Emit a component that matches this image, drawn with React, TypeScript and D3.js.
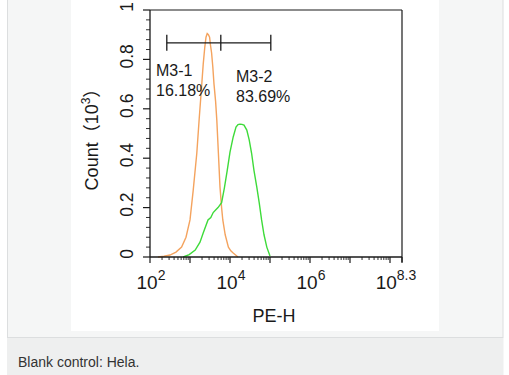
import React from "react";
import * as d3 from "d3";

// ---- data (log10 of PE-H, counts in 10^3) ----
const orangeLogX = [2.2, 2.35, 2.5, 2.65, 2.79, 2.9, 3.0, 3.08, 3.17, 3.23, 3.29, 3.33, 3.37, 3.4, 3.43, 3.46, 3.49, 3.51, 3.54, 3.57, 3.6, 3.64, 3.67, 3.71, 3.75, 3.79, 3.82, 3.88, 3.96, 4.02, 4.08, 4.2];
const orangeCount = [0.0, 0.003, 0.008, 0.02, 0.04, 0.08, 0.15, 0.27, 0.42, 0.56, 0.69, 0.78, 0.85, 0.89, 0.905, 0.9, 0.89, 0.86, 0.826, 0.77, 0.7, 0.63, 0.555, 0.42, 0.283, 0.2, 0.15, 0.09, 0.04, 0.025, 0.016, 0.0];

const greenLogX = [2.83, 2.98, 3.13, 3.25, 3.33, 3.45, 3.52, 3.58, 3.64, 3.7, 3.79, 3.86, 3.93, 4.0, 4.08, 4.15, 4.2, 4.25, 4.3, 4.35, 4.42, 4.48, 4.54, 4.6, 4.67, 4.73, 4.79, 4.85, 4.92, 5.0];
const greenCount = [0.0, 0.01, 0.028, 0.06, 0.097, 0.15, 0.16, 0.18, 0.19, 0.2, 0.22, 0.28, 0.35, 0.425, 0.486, 0.526, 0.536, 0.538, 0.537, 0.534, 0.514, 0.474, 0.42, 0.35, 0.283, 0.22, 0.15, 0.09, 0.04, 0.004];

const markerLogX = [2.42, 3.77, 5.02];
const markerCount = 0.867;

const markerLabels = [
  { name: "M3-1", pct: "16.18%" },
  { name: "M3-2", pct: "83.69%" },
];

const xMajorExp = [2, 3, 4, 5, 6, 7, 8, 8.3];
const xLabelExp = [2, 4, 6, 8.3];
const yMajor = [0, 0.2, 0.4, 0.6, 0.8, 1];
const yLabels = ["0", "0.2", "0.4", "0.6", "0.8", "1"];

const xTitle = "PE-H";
const caption = "Blank control: Hela.";

const FONT = "'Liberation Sans', Arial, Helvetica, 'Noto Sans CJK SC', sans-serif";

export default function App() {
  const x = d3.scaleLog().domain([1e2, Math.pow(10, 8.3)]).range([150, 402]);
  const y = d3.scaleLinear().domain([0, 1]).range([257, 10]);

  const line = d3
    .line<[number, number]>()
    .x((d) => x(Math.pow(10, d[0])))
    .y((d) => y(d[1]));

  const orangePath = line(orangeLogX.map((e, i) => [e, orangeCount[i]] as [number, number])) || "";
  const greenPath = line(greenLogX.map((e, i) => [e, greenCount[i]] as [number, number])) || "";

  // minor ticks
  const xMinor: number[] = [];
  for (let dec = 2; dec <= 8; dec++) {
    for (let m = 2; m <= 9; m++) {
      const v = m * Math.pow(10, dec);
      if (v < Math.pow(10, 8.3)) xMinor.push(v);
    }
  }
  const yMinor = d3.range(0, 1.0001, 0.04).filter(
    (v) => !yMajor.some((m) => Math.abs(m - v) < 1e-6)
  );

  const x0 = x.range()[0];
  const x1 = x.range()[1];
  const y0 = y.range()[0];
  const y1 = y.range()[1];
  const ink = "#1a1a1a";

  const my = y(markerCount);

  return (
    <div style={{ position: "absolute", left: 0, top: 0 }}>
      <svg width={509} height={375} style={{ display: "block", fontFamily: FONT }}>
        <rect x={0} y={0} width={509} height={375} fill="#ffffff" />
        {/* card */}
        <rect x={7.5} y={-1} width={495.5} height={338.5} fill="#f5f6f6" stroke="#dcdedf" strokeWidth={1} />
        {/* caption area */}
        <rect x={7} y={338} width={496.5} height={37} fill="#eeefef" />
        {/* image area */}
        <rect x={71} y={0} width={368} height={331} fill="#ffffff" />

        {/* histograms */}
        <path d={orangePath} fill="none" stroke="#f4a35e" strokeWidth={1.4} />
        <path d={greenPath} fill="none" stroke="#3edb3a" strokeWidth={1.4} />

        {/* frame */}
        <line x1={x0} x2={x1} y1={y1} y2={y1} stroke={ink} strokeWidth={1.2} />
        <line x1={x1} x2={x1} y1={y1} y2={y0 + 5} stroke={ink} strokeWidth={1.2} />
        <line x1={x0} x2={x1} y1={y0} y2={y0} stroke={ink} strokeWidth={1.3} />
        <line x1={x0} x2={x0} y1={y1} y2={y0} stroke={ink} strokeWidth={1.3} />

        {/* x ticks */}
        {xMajorExp.map((e) => (
          <line key={"xm" + e} x1={x(Math.pow(10, e))} x2={x(Math.pow(10, e))} y1={y0} y2={y0 + 6} stroke={ink} strokeWidth={1.2} />
        ))}
        {xMinor.map((v) => (
          <line key={"xn" + v} x1={x(v)} x2={x(v)} y1={y0} y2={y0 + 3} stroke={ink} strokeWidth={0.9} />
        ))}
        {xLabelExp.map((e, i) => (
          <text
            key={"xl" + e}
            x={x(Math.pow(10, e)) + (i === xLabelExp.length - 1 ? -6 : 1)}
            y={289}
            textAnchor="middle"
            fontSize={19}
            fill={ink}
          >
            10
            <tspan dy={-9} fontSize={14}>{String(e)}</tspan>
          </text>
        ))}
        <text x={274} y={322} textAnchor="middle" fontSize={18} fill={ink}>
          {xTitle}
        </text>

        {/* y ticks */}
        {yMajor.map((v) => (
          <line key={"ym" + v} x1={x0 - 7} x2={x0} y1={y(v)} y2={y(v)} stroke={ink} strokeWidth={1.2} />
        ))}
        {yMinor.map((v) => (
          <line key={"yn" + v} x1={x0 - 4} x2={x0} y1={y(v)} y2={y(v)} stroke={ink} strokeWidth={0.9} />
        ))}
        {yMajor.map((v, i) => (
          <text
            key={"yl" + v}
            transform={`translate(132.5, ${y(v) - 3}) rotate(-90)`}
            textAnchor="middle"
            fontSize={17.5}
            fill={ink}
          >
            {yLabels[i]}
          </text>
        ))}
        <text transform="translate(98, 135) rotate(-90)" textAnchor="middle" fontSize={18} fill={ink}>
          Count（10
          <tspan dy={-8} fontSize={12}>3</tspan>
          <tspan dy={8}>）</tspan>
        </text>

        {/* marker */}
        <line x1={x(Math.pow(10, markerLogX[0]))} x2={x(Math.pow(10, markerLogX[2]))} y1={my} y2={my} stroke={ink} strokeWidth={1.3} />
        {markerLogX.map((e) => (
          <line key={"mk" + e} x1={x(Math.pow(10, e))} x2={x(Math.pow(10, e))} y1={my - 8} y2={my + 8} stroke={ink} strokeWidth={1.3} />
        ))}
        <text x={156} y={75.5} fontSize={16} fill={ink}>{markerLabels[0].name}</text>
        <text x={156} y={95.5} fontSize={16} fill={ink}>{markerLabels[0].pct}</text>
        <text x={236} y={82} fontSize={16} fill={ink}>{markerLabels[1].name}</text>
        <text x={236} y={102} fontSize={16} fill={ink}>{markerLabels[1].pct}</text>

        {/* caption */}
        <text x={18} y={366.5} fontSize={14} fill="#333333">{caption}</text>
      </svg>
    </div>
  );
}
